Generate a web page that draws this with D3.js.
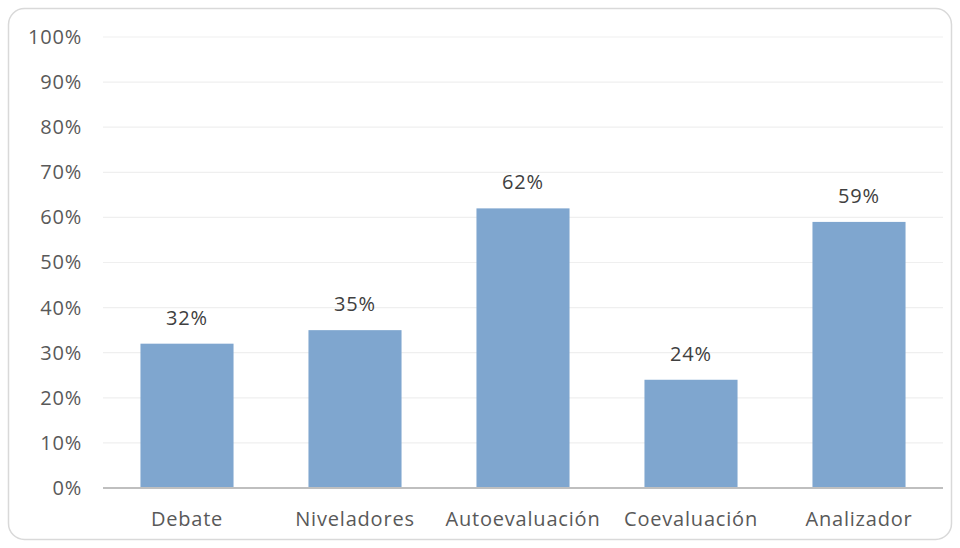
<!DOCTYPE html>
<html><head><meta charset="utf-8">
<script src="https://cdn.jsdelivr.net/npm/d3@7"></script>
<style>body{margin:0;background:#fff;} text{font-family:"Open Sans",sans-serif;}</style>
</head><body>
<svg id="c" width="960" height="548"></svg>
<script>
const categories = ["Debate","Niveladores","Autoevaluación","Coevaluación","Analizador"];
const values = [0.32,0.35,0.62,0.24,0.59];
const ticks = [0,0.1,0.2,0.3,0.4,0.5,0.6,0.7,0.8,0.9,1.0];

const svg = d3.select("#c");
svg.append("rect").attr("x",8.5).attr("y",8.5).attr("width",943).attr("height",531)
  .attr("rx",16).attr("fill","#fff").attr("stroke","#d9d9d9").attr("stroke-width",1.5);

const x = d3.scaleBand().domain(categories).range([103,943]).paddingInner(0.446).paddingOuter(0.223);
const y = d3.scaleLinear().domain([0,1]).range([488,37]);

const grid = svg.append("g");
grid.selectAll("line").data(ticks.filter(t=>t>0)).join("line")
  .attr("x1",103).attr("x2",943).attr("y1",d=>y(d)).attr("y2",d=>y(d))
  .attr("stroke","#efefef").attr("stroke-width",1.2);

const yAxis = d3.axisLeft(y).tickValues(ticks).tickFormat(d3.format(".0%")).tickSize(0).tickPadding(21);
const ya = svg.append("g").attr("transform","translate(103,0)").call(yAxis);
ya.select(".domain").remove();
ya.selectAll("text").attr("font-size",20).attr("letter-spacing","0.8px").attr("fill","#595959")
  .attr("font-family","'Open Sans',sans-serif");

svg.append("g").selectAll("rect").data(values).join("rect")
  .attr("x",(d,i)=>x(categories[i])).attr("width",x.bandwidth())
  .attr("y",d=>y(d)).attr("height",d=>y(0)-y(d)).attr("fill","#7fa6cf");

svg.append("g").selectAll("text").data(values).join("text")
  .attr("x",(d,i)=>x(categories[i])+x.bandwidth()/2).attr("y",d=>y(d)-19)
  .attr("text-anchor","middle").attr("font-size",20).attr("letter-spacing","0.8px").attr("fill","#404040")
  .text(d=>d3.format(".0%")(d));

const xAxis = d3.axisBottom(x).tickSize(0).tickPadding(0);
const xa = svg.append("g").attr("transform","translate(0,488)").call(xAxis);
xa.select(".domain").attr("stroke","#bfbfbf").attr("stroke-width",2.2).attr("d","M103,0H943");
xa.selectAll("text").attr("font-size",20).attr("letter-spacing","0.8px").attr("fill","#595959")
  .attr("font-family","'Open Sans',sans-serif").attr("dy",null).attr("y",38);
</script>
</body></html>
